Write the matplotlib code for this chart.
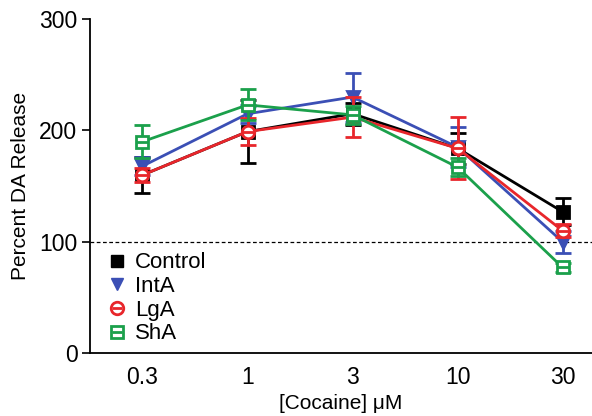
import matplotlib.pyplot as plt
from matplotlib.lines import Line2D

plt.rcParams['font.family'] = ['Liberation Sans', 'DejaVu Sans']

# cocaine concentrations (uM), plotted at equal spacing
doses = ['0.3', '1', '3', '10', '30']

control = [160, 199, 215, 184, 127]
control_err = [16, 28, 10, 14, 12]
inta = [168, 215, 230, 185, 100]
inta_err = [8, 8, 22, 18, 10]
lga = [160, 199, 212, 184, 110]
lga_err = [6, 12, 18, 28, 6]
sha = [190, 223, 214, 167, 77]
sha_err = [15, 14, 8, 8, 4]

c_black = '#000000'
c_blue = '#3b4fb5'
c_red = '#e8262b'
c_green = '#1ba04b'

fig = plt.figure(figsize=(5.92, 4.16), dpi=100)
ax = fig.add_axes([0.152, 0.151, 0.848, 0.803])

x = list(range(len(doses)))

ax.axhline(100, color='black', lw=0.9, ls=(0, (3, 2)), zorder=1)

def series(y, err, color, marker, mfc, z):
    ax.errorbar(x, y, yerr=err, color=color, lw=2.0, capsize=6, capthick=2.0,
                elinewidth=2.0, marker=marker, ms=9, mfc=mfc, mec=color,
                mew=2.0, zorder=z)

series(control, control_err, c_black, 's', c_black, 2)
series(inta, inta_err, c_blue, 'v', c_blue, 3)
series(lga, lga_err, c_red, 'o', 'white', 4)
ax.plot(x, lga, ls='none', marker='_', ms=8, mew=2.0, color=c_red, zorder=4.5)
series(sha, sha_err, c_green, 's', 'white', 5)
ax.plot(x, sha, ls='none', marker='_', ms=8, mew=2.0, color=c_green, zorder=5.5)

ax.set_xlim(-0.5, 4.28)
ax.set_ylim(0, 300)
ax.set_yticks([0, 100, 200, 300])
ax.set_xticks(x)
ax.set_xticklabels(doses)
ax.tick_params(axis='x', length=0, pad=9.5, labelsize=16.5)
ax.tick_params(axis='y', length=6, width=1.2, direction='out', labelsize=16.5, pad=3)
for s in ['top', 'right']:
    ax.spines[s].set_visible(False)
for s in ['left', 'bottom']:
    ax.spines[s].set_linewidth(1.3)

ax.set_ylabel('Percent DA Release', fontsize=15, labelpad=7)
ax.set_xlabel('[Cocaine] \u03bcM', fontsize=15, labelpad=3)

handles = [
    Line2D([], [], ls='none', marker='s', ms=9, color=c_black),
    Line2D([], [], ls='none', marker='v', ms=9, color=c_blue),
    (Line2D([], [], ls='none', marker='o', ms=9, mfc='white', mec=c_red, mew=2.0),
     Line2D([], [], ls='none', marker='_', ms=7, mew=2.0, color=c_red)),
    (Line2D([], [], ls='none', marker='s', ms=9, mfc='white', mec=c_green, mew=2.0),
     Line2D([], [], ls='none', marker='_', ms=7, mew=2.0, color=c_green)),
]
ax.legend(handles, ['Control', 'IntA', 'LgA', 'ShA'], loc='lower left',
          bbox_to_anchor=(0.005, -0.02), frameon=False, fontsize=16,
          handlelength=0.8, handletextpad=0.4, labelspacing=0.12,
          borderaxespad=0.3)

fig.savefig('out.png', dpi=100)
